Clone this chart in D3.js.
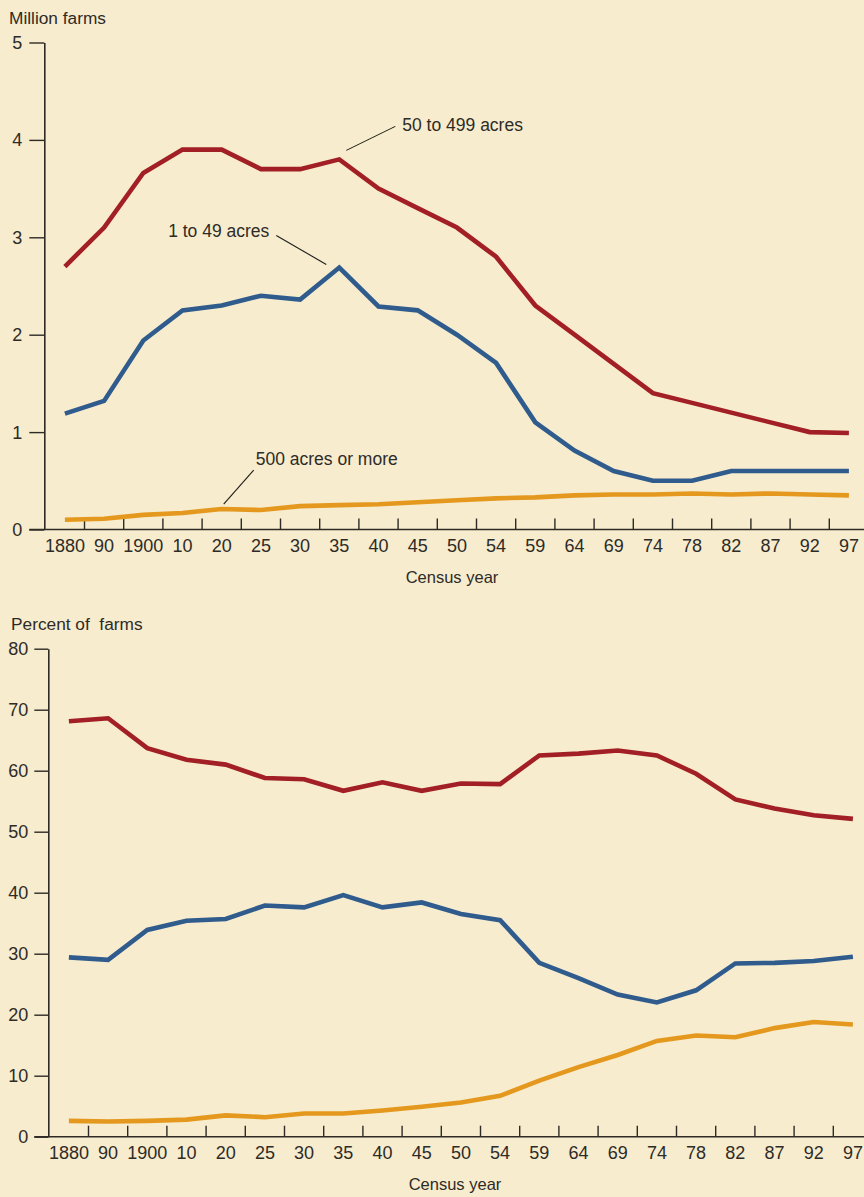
<!DOCTYPE html>
<html>
<head>
<meta charset="utf-8">
<script src="https://cdn.jsdelivr.net/npm/d3@7"></script>
<style>
  body { margin: 0; background: #f7ecce; }
  text { font-family: "Liberation Sans", Arial, sans-serif; fill: #2e2b27; }
</style>
</head>
<body>
<div id="chart"></div>
<script>
// census years (category axis)
var years = ["1880", "90", "1900", "10", "20", "25", "30", "35", "40", "45", "50",
             "54", "59", "64", "69", "74", "78", "82", "87", "92", "97"];

// million farms
var mil50to499 = [2.7, 3.1, 3.66, 3.9, 3.9, 3.7, 3.7, 3.8, 3.5, 3.3, 3.1,
                  2.8, 2.3, 2.0, 1.7, 1.4, 1.3, 1.2, 1.1, 1.0, 0.99];
var mil1to49   = [1.19, 1.32, 1.94, 2.25, 2.3, 2.4, 2.36, 2.69, 2.29, 2.25, 2.0,
                  1.71, 1.1, 0.81, 0.6, 0.5, 0.5, 0.6, 0.6, 0.6, 0.6];
var mil500plus = [0.1, 0.11, 0.15, 0.17, 0.21, 0.2, 0.24, 0.25, 0.26, 0.28, 0.3,
                  0.32, 0.33, 0.35, 0.36, 0.36, 0.37, 0.36, 0.37, 0.36, 0.35];

// percent of farms
var pct50to499 = [68.1, 68.6, 63.7, 61.8, 61.0, 58.8, 58.6, 56.7, 58.1, 56.7, 57.9,
                  57.8, 62.5, 62.8, 63.3, 62.5, 59.5, 55.3, 53.8, 52.7, 52.1];
var pct1to49   = [29.4, 29.0, 33.9, 35.4, 35.7, 37.9, 37.6, 39.6, 37.6, 38.4, 36.5,
                  35.5, 28.5, 26.0, 23.3, 22.0, 24.0, 28.4, 28.5, 28.8, 29.5];
var pct500plus = [2.6, 2.5, 2.6, 2.8, 3.5, 3.2, 3.8, 3.8, 4.3, 4.9, 5.6,
                  6.7, 9.2, 11.4, 13.4, 15.7, 16.6, 16.3, 17.8, 18.8, 18.4];

var milTicks = [0, 1, 2, 3, 4, 5];
var pctTicks = [0, 10, 20, 30, 40, 50, 60, 70, 80];

var W = 864, H = 1197;
var colors = { big: "#a21f25", small: "#2f5b8d", large: "#e4981d" };

var svg = d3.select("#chart").append("svg")
    .attr("width", W)
    .attr("height", H);

svg.append("rect").attr("width", W).attr("height", H).attr("fill", "#f7ecce");

function drawChart(cfg) {
  var g = svg.append("g");

  var x = d3.scaleBand()
      .domain(years)
      .range([cfg.left + 1, cfg.left + 1 + years.length * 39.2])
      .padding(0);
  var cx = function(d) { return x(d) + x.bandwidth() / 2; };

  var y = d3.scaleLinear()
      .domain([0, d3.max(cfg.ticks)])
      .range([cfg.bottom, cfg.top]);

  // y axis
  var yAxis = g.append("g")
      .attr("transform", "translate(" + cfg.left + ",0)")
      .call(d3.axisLeft(y)
        .tickValues(cfg.ticks)
        .tickFormat(d3.format("d"))
        .tickSize(cfg.tickLen)
        .tickPadding(cfg.tickPad)
        .tickSizeOuter(0));
  yAxis.select(".domain").attr("stroke", "#2e2b27").attr("stroke-width", 1.6);
  yAxis.selectAll(".tick line").attr("stroke", "#2e2b27").attr("stroke-width", 1.4);
  yAxis.selectAll(".tick text")
      .attr("fill", "#2e2b27")
      .style("font-size", "18px")
      .attr("dy", "0.33em");

  // x axis
  g.append("line")
      .attr("x1", cfg.left - cfg.tickLen).attr("x2", W)
      .attr("y1", y(0)).attr("y2", y(0))
      .attr("stroke", "#2e2b27").attr("stroke-width", 1.6);

  g.selectAll(".xtick")
    .data(years.slice(1))
    .enter().append("line")
      .attr("x1", function(d) { return x(d); })
      .attr("x2", function(d) { return x(d); })
      .attr("y1", y(0)).attr("y2", y(0) - 11)
      .attr("stroke", "#2e2b27").attr("stroke-width", 1.4);

  g.selectAll(".xlabel")
    .data(years)
    .enter().append("text")
      .attr("x", cx)
      .attr("y", y(0) + 22)
      .attr("text-anchor", "middle")
      .style("font-size", "18px")
      .text(function(d) { return d; });

  g.append("text")
      .attr("x", cfg.xTitleX)
      .attr("y", y(0) + 53)
      .attr("text-anchor", "middle")
      .style("font-size", "16.5px")
      .text("Census year");

  g.append("text")
      .attr("x", cfg.yTitleX)
      .attr("y", cfg.top - 18.5)
      .style("font-size", "17.3px")
      .style("white-space", "pre")
      .text(cfg.yTitle);

  // lines
  var line = d3.line()
      .x(function(d, i) { return cx(years[i]); })
      .y(function(d) { return y(d); });

  cfg.series.forEach(function(s) {
    g.append("path")
        .datum(s.values)
        .attr("fill", "none")
        .attr("stroke", s.color)
        .attr("stroke-width", 4.6)
        .attr("stroke-linejoin", "miter")
        .attr("d", line);
  });

  // labels with leader lines
  (cfg.notes || []).forEach(function(n) {
    var px = cx(n.year), py = y(n.values[years.indexOf(n.year)]);
    g.append("line")
        .attr("x1", px + n.from[0]).attr("y1", py + n.from[1])
        .attr("x2", px + n.to[0]).attr("y2", py + n.to[1])
        .attr("stroke", "#1e1c1a").attr("stroke-width", 1.1);
    g.append("text")
        .attr("x", px + n.text[0]).attr("y", py + n.text[1])
        .attr("text-anchor", n.anchor)
        .style("font-size", "17.5px")
        .text(n.label);
  });
}

drawChart({
  left: 44.3, top: 42.5, bottom: 529.5, tickLen: 15, tickPad: 7,
  ticks: milTicks, yTitle: "Million farms", yTitleX: 9, xTitleX: 452,
  series: [
    { values: mil50to499, color: colors.big },
    { values: mil1to49, color: colors.small },
    { values: mil500plus, color: colors.large }
  ],
  notes: [
    { label: "50 to 499 acres", year: "35", values: mil50to499,
      from: [7, -9], to: [56, -33], text: [63, -28], anchor: "start" },
    { label: "1 to 49 acres", year: "35", values: mil1to49,
      from: [-13, -3], to: [-63, -32], text: [-70, -30], anchor: "end" },
    { label: "500 acres or more", year: "20", values: mil500plus,
      from: [2, -5], to: [32, -39], text: [34, -44], anchor: "start" }
  ]
});

drawChart({
  left: 48.3, top: 648.7, bottom: 1136.7, tickLen: 14, tickPad: 6,
  ticks: pctTicks, yTitle: "Percent of  farms", yTitleX: 11, xTitleX: 455,
  series: [
    { values: pct50to499, color: colors.big },
    { values: pct1to49, color: colors.small },
    { values: pct500plus, color: colors.large }
  ]
});
</script>
</body>
</html>
